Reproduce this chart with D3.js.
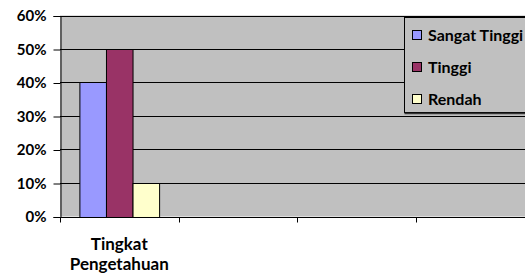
<!DOCTYPE html>
<html>
<head>
<meta charset="utf-8">
<script src="https://cdn.jsdelivr.net/npm/d3@7"></script>
<style>
  html, body { margin: 0; padding: 0; background: #fff; }
  svg { display: block; font-family: Lato, "Open Sans", sans-serif; font-weight: bold; }
</style>
</head>
<body>
<svg id="chart" width="525" height="279"></svg>
<script>
// ---- data ----
const categories = ["Tingkat Pengetahuan", "c2", "c3", "c4"];
const categoryLabels = [["Tingkat", "Pengetahuan"], [], [], []];
const seriesNames = ["Sangat Tinggi", "Tinggi", "Rendah"];
const seriesColors = ["#9999FF", "#993366", "#FFFFCC"];
const sangatTinggi = [0.40];
const tinggi = [0.50];
const rendah = [0.10];
const yTicks = [0, 0.1, 0.2, 0.3, 0.4, 0.5, 0.6];

const seriesValues = [sangatTinggi, tinggi, rendah];

const svg = d3.select("#chart");
const plot = { left: 60, right: 534, top: 15.5, bottom: 216.5 };

const x = d3.scaleBand().domain(categories).range([plot.left, plot.right]).padding(0);
const xSub = d3.scaleBand().domain(seriesNames).range([0, x.bandwidth()])
  .paddingInner(0).paddingOuter(0.73);
const y = d3.scaleLinear().domain([0, 0.6]).range([plot.bottom, plot.top]);

// plot area background
svg.append("rect")
  .attr("x", plot.left).attr("y", plot.top)
  .attr("width", plot.right - plot.left).attr("height", plot.bottom - plot.top)
  .attr("fill", "#C0C0C0");

// gridlines
svg.append("g").selectAll("line").data(yTicks.filter(d => d > 0)).join("line")
  .attr("x1", plot.left).attr("x2", plot.right)
  .attr("y1", d => Math.round(y(d)) + 0.5).attr("y2", d => Math.round(y(d)) + 0.5)
  .attr("stroke", "#000").attr("stroke-width", 1);

// bars
const barG = svg.append("g");
seriesNames.forEach((name, si) => {
  barG.append("g").selectAll("rect")
    .data(seriesValues[si].map((v, ci) => ({ cat: categories[ci], v })))
    .join("rect")
    .attr("x", d => x(d.cat) + xSub(name) + 0.5)
    .attr("y", d => Math.round(y(d.v)) + 0.5)
    .attr("width", xSub.bandwidth())
    .attr("height", d => Math.round(y(0)) - Math.round(y(d.v)))
    .attr("fill", seriesColors[si])
    .attr("stroke", "#000").attr("stroke-width", 1);
});

// y axis
const yAxis = d3.axisLeft(y).tickValues(yTicks).tickFormat(d3.format(".0%"))
  .tickSize(7).tickPadding(7);
const yg = svg.append("g").attr("transform", `translate(${plot.left + 0.5},0.5)`).call(yAxis);
yg.select(".domain").attr("stroke", "#000");
yg.selectAll(".tick line").attr("stroke", "#000");
yg.selectAll(".tick text").attr("font-size", 15).attr("font-weight", "bold")
  .attr("font-family", "Lato, sans-serif").attr("fill", "#000");

// x axis (ticks between categories, Excel style)
const xg = svg.append("g");
const y0 = Math.round(y(0)) + 0.5;
xg.append("line").attr("x1", plot.left).attr("x2", plot.right)
  .attr("y1", y0).attr("y2", y0).attr("stroke", "#000");
const boundaries = categories.map(c => x(c)).concat([x(categories[categories.length - 1]) + x.bandwidth()]);
xg.selectAll("line.tk").data(boundaries).join("line").attr("class", "tk")
  .attr("x1", d => Math.round(d) + 0.5).attr("x2", d => Math.round(d) + 0.5)
  .attr("y1", y0).attr("y2", y0 + 5).attr("stroke", "#000");
categories.forEach((c, i) => {
  const t = xg.append("text")
    .attr("x", x(c) + x.bandwidth() / 2).attr("y", 250)
    .attr("text-anchor", "middle").attr("font-size", 17).attr("fill", "#000");
  categoryLabels[i].forEach((line, li) => {
    t.append("tspan").attr("x", x(c) + x.bandwidth() / 2).attr("dy", li === 0 ? 0 : 20).text(line);
  });
});

// legend
const lg = svg.append("g");
const legX = 404.5, legY = 17.5, legW = 140, legH = 95;
lg.append("rect").attr("x", legX).attr("y", legY).attr("width", legW).attr("height", legH)
  .attr("fill", "#C0C0C0").attr("stroke", "#000").attr("stroke-width", 1);
lg.append("line").attr("x1", legX).attr("x2", legX + legW)
  .attr("y1", legY + legH + 1).attr("y2", legY + legH + 1).attr("stroke", "#333").attr("stroke-width", 1.5);
seriesNames.forEach((name, i) => {
  const cy = 35 + i * 32;
  lg.append("rect").attr("x", 412.5).attr("y", cy - 4.5).attr("width", 9).attr("height", 9)
    .attr("fill", seriesColors[i]).attr("stroke", "#000");
  lg.append("text").attr("x", 428).attr("y", cy).attr("dy", "0.36em")
    .attr("font-size", 16).attr("fill", "#000").text(name);
});
</script>
</body>
</html>
